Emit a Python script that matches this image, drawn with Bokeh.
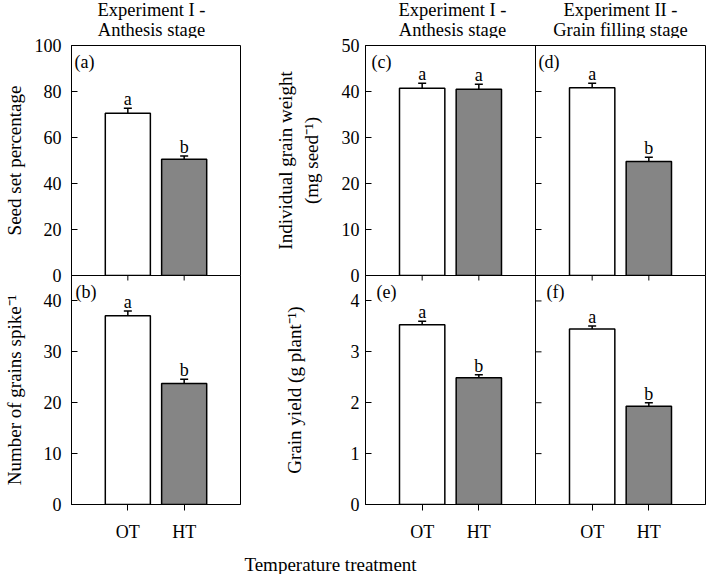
from math import pi
from bokeh.plotting import figure
from bokeh.layouts import column, row
from bokeh.models import (ColumnDataSource, Whisker, TeeHead, Label, Span,
                          FixedTicker, Range1d)
from bokeh.embed import file_html
from bokeh.resources import INLINE
from bokeh.core.properties import value

# ---------------- data ----------------
treatments = ["OT", "HT"]
bar_colors = ["white", "#858585"]

seed_set = [70.5, 50.5]
seed_set_err = [2.2, 1.5]
seed_set_letters = ["a", "b"]

grains_spike = [37.1, 23.8]
grains_spike_err = [0.9, 0.8]
grains_spike_letters = ["a", "b"]

grain_wt_anthesis = [40.7, 40.5]
grain_wt_anthesis_err = [1.1, 1.1]
grain_wt_anthesis_letters = ["a", "a"]

grain_wt_filling = [40.8, 24.8]
grain_wt_filling_err = [1.0, 0.9]
grain_wt_filling_letters = ["a", "b"]

yield_anthesis = [3.53, 2.49]
yield_anthesis_err = [0.07, 0.06]
yield_anthesis_letters = ["a", "b"]

yield_filling = [3.45, 1.93]
yield_filling_err = [0.06, 0.07]
yield_filling_letters = ["a", "b"]

titles_anthesis = ["Experiment I -", "Anthesis stage"]
titles_filling = ["Experiment II -", "Grain filling stage"]
x_title = "Temperature treatment"

FONT = "Liberation Serif"
TICK_FS = "18px"
LABEL_FS = "19px"

x_pos = [i + 1 for i in range(len(treatments))]          # 1, 2 within one panel
PANEL_SPAN = len(treatments) + 1                           # 3 units per panel

# ---------------- layout constants (pixels) ----------------
LB, LFW, LBR = 68, 172, 5          # left column: border, frame, right border
RB, RFW, RBR = 120, 340, 1         # right column: border, frame (2 panels), right border
LW = LB + LFW + LBR
RW = RB + RFW + RBR
HEAD_H = 38
TOP_OVER = 5                       # top row overlaps header by this much
TOP_BT, TOP_FH, TOP_BB = 12, 230, 12
BOT_OVER = TOP_BB                  # bottom row overlaps the top row's bottom border
BOT_FH, BOT_BB = 229, 40
FOOT_H = 30
TOTAL_W = LW + RW


def base_fig(width, height, y_end, y_ticks, x_end, bl, br, bt, bb, show_x):
    p = figure(width=width, height=height,
               x_range=Range1d(0, x_end), y_range=Range1d(0, y_end),
               output_backend="svg", toolbar_location=None,
               min_border_left=bl, min_border_right=br,
               min_border_top=bt, min_border_bottom=bb,
               x_axis_location="below" if show_x else None)
    p.grid.visible = False
    p.outline_line_color = "black"
    p.outline_line_alpha = 1.0
    p.outline_line_width = 1
    p.background_fill_color = "white"
    p.border_fill_alpha = 0.0
    ya = p.yaxis[0]
    ya.ticker = FixedTicker(ticks=y_ticks)
    ya.minor_tick_line_color = None
    ya.major_tick_in = 6
    ya.major_tick_out = 0
    ya.axis_line_color = "black"
    ya.major_tick_line_color = "black"
    ya.major_label_text_font = FONT
    ya.major_label_text_font_size = TICK_FS
    ya.major_label_text_color = "black"
    ya.axis_label_text_font = FONT
    ya.axis_label_text_font_size = LABEL_FS
    ya.axis_label_text_font_style = "normal"
    ya.axis_label_text_color = "black"
    if show_x:
        xa = p.xaxis[0]
        xa.minor_tick_line_color = None
        xa.major_tick_in = 0
        xa.major_tick_out = 6
        xa.major_label_standoff = 11
        xa.major_label_text_font = FONT
        xa.major_label_text_font_size = TICK_FS
        xa.major_label_text_color = "black"
        xa.axis_line_color = "black"
    return p


def set_x_ticks(p, n_panels):
    ticks, overrides = [], {}
    for k in range(n_panels):
        for xp, name in zip(x_pos, treatments):
            t = xp + k * PANEL_SPAN
            ticks.append(t)
            overrides[t] = name
    p.xaxis[0].ticker = FixedTicker(ticks=ticks)
    p.xaxis[0].major_label_overrides = overrides


def draw_bars(p, offset, vals, errs, letters, y_end, frame_h):
    xs = [xp + offset for xp in x_pos]
    gap = 9 * y_end / frame_h                  # 9 px above the whisker, in data units
    src = ColumnDataSource(dict(
        x=xs, top=vals, color=bar_colors,
        upper=[v + e for v, e in zip(vals, errs)],
        lower=[v - e for v, e in zip(vals, errs)],
        ly=[v + e + gap for v, e in zip(vals, errs)],
        letter=letters))
    p.vbar(x="x", top="top", bottom=0, width=0.8, fill_color="color",
           line_color="black", line_width=1.5, source=src)
    w = Whisker(base="x", upper="upper", lower="lower", source=src,
                line_color="black", line_width=1.5,
                upper_head=TeeHead(size=8, line_width=1.5, line_color="black"),
                lower_head=TeeHead(size=8, line_width=1.5, line_color="black"))
    p.add_layout(w)
    p.text(x="x", y="ly", text="letter", source=src,
           text_font=value(FONT), text_font_size="18px", text_color="black",
           text_align="center", text_baseline="middle")


def panel_tag(p, x, y, txt, dx=3, dy=-6):
    p.add_layout(Label(x=x, y=y, text=txt, x_offset=dx, y_offset=dy,
                       text_font=FONT, text_font_size="18px", text_color="black",
                       text_align="left", text_baseline="top"))


# ---------------- header (titles) ----------------
phead = figure(width=TOTAL_W, height=HEAD_H, x_range=Range1d(0, TOTAL_W),
               y_range=Range1d(0, HEAD_H), output_backend="svg",
               toolbar_location=None, min_border=0,
               x_axis_location=None, y_axis_location=None)
phead.grid.visible = False
phead.outline_line_color = None
c_panel_w = RFW / 2
title_specs = [(LB + LFW / 2 - 3, titles_anthesis),
               (LW + RB + c_panel_w / 2 + 2, titles_anthesis),
               (LW + RB + c_panel_w * 1.5, titles_filling)]
for cx, lines in title_specs:
    for t, ymid in zip(lines, [HEAD_H - 9.5, HEAD_H - 29]):
        phead.add_layout(Label(x=cx, y=ymid, text=t, text_font=FONT,
                               text_font_size="18.5px", text_color="black",
                               text_align="center", text_baseline="middle"))

TOP_H = TOP_BT + TOP_FH + TOP_BB
BOT_H = BOT_FH + BOT_BB

# ---------------- (a) ----------------
pa = base_fig(LW, TOP_H, 100, [0, 20, 40, 60, 80, 100], PANEL_SPAN,
              LB, LBR, TOP_BT, TOP_BB, False)
pa.yaxis[0].axis_label = "Seed set percentage"
pa.yaxis[0].major_label_standoff = 10
pa.yaxis[0].axis_label_standoff = 7
draw_bars(pa, 0, seed_set, seed_set_err, seed_set_letters, 100, TOP_FH)
panel_tag(pa, 0, 100, "(a)")

# ---------------- (b) ----------------
pb = base_fig(LW, BOT_H, 45, [0, 10, 20, 30, 40], PANEL_SPAN,
              LB, LBR, 0, BOT_BB, True)
pb.yaxis[0].axis_label = "Number of grains spike\u207b\u00b9"
pb.yaxis[0].major_label_standoff = 10
pb.yaxis[0].axis_label_standoff = 16
set_x_ticks(pb, 1)
draw_bars(pb, 0, grains_spike, grains_spike_err, grains_spike_letters, 45, BOT_FH)
pb.ray(x=x_pos, y=45, length=5, angle=-pi / 2, length_units="screen",
       line_color="black", line_width=1)
panel_tag(pb, 0, 45, "(b)", dx=4)

# ---------------- (c)+(d) ----------------
pcd = base_fig(RW, TOP_H, 50, [0, 10, 20, 30, 40, 50], 2 * PANEL_SPAN,
               RB, RBR, TOP_BT, TOP_BB, False)
pcd.yaxis[0].axis_label = "Individual grain weight\n(mg seed\u207b\u00b9)"
pcd.yaxis[0].major_label_standoff = 6
pcd.yaxis[0].axis_label_standoff = 17
draw_bars(pcd, 0, grain_wt_anthesis, grain_wt_anthesis_err, grain_wt_anthesis_letters, 50, TOP_FH)
draw_bars(pcd, PANEL_SPAN, grain_wt_filling, grain_wt_filling_err, grain_wt_filling_letters, 50, TOP_FH)
pcd.add_layout(Span(location=PANEL_SPAN, dimension="height", line_color="black", line_width=1))
pcd.ray(x=PANEL_SPAN, y=[10, 20, 30, 40], length=6, angle=0, length_units="screen",
        line_color="black", line_width=1)
panel_tag(pcd, 0, 50, "(c)", dx=6)
panel_tag(pcd, PANEL_SPAN, 50, "(d)", dx=3)

# ---------------- (e)+(f) ----------------
pef = base_fig(RW, BOT_H, 4.5, [0, 1, 2, 3, 4], 2 * PANEL_SPAN,
               RB, RBR, 0, BOT_BB, True)
pef.yaxis[0].axis_label = "Grain yield (g plant\u207b\u00b9)"
pef.yaxis[0].major_label_standoff = 6
pef.yaxis[0].axis_label_standoff = 43
set_x_ticks(pef, 2)
draw_bars(pef, 0, yield_anthesis, yield_anthesis_err, yield_anthesis_letters, 4.5, BOT_FH)
draw_bars(pef, PANEL_SPAN, yield_filling, yield_filling_err, yield_filling_letters, 4.5, BOT_FH)
pef.add_layout(Span(location=PANEL_SPAN, dimension="height", line_color="black", line_width=1))
pef.ray(x=PANEL_SPAN, y=[1, 2, 3, 4], length=6, angle=0, length_units="screen",
        line_color="black", line_width=1)
pef.ray(x=[xp + k * PANEL_SPAN for k in range(2) for xp in x_pos], y=4.5, length=5,
        angle=-pi / 2, length_units="screen", line_color="black", line_width=1)
panel_tag(pef, 0, 4.5, "(e)", dx=11)
panel_tag(pef, PANEL_SPAN, 4.5, "(f)", dx=11)

# ---------------- footer ----------------
pfoot = figure(width=TOTAL_W, height=FOOT_H, x_range=Range1d(0, TOTAL_W),
               y_range=Range1d(0, FOOT_H), output_backend="svg",
               toolbar_location=None, min_border=0,
               x_axis_location=None, y_axis_location=None)
pfoot.grid.visible = False
pfoot.outline_line_color = None
pfoot.background_fill_alpha = 0.0
pfoot.border_fill_alpha = 0.0
pfoot.add_layout(Label(x=330, y=FOOT_H - 20, text=x_title, text_font=FONT,
                       text_font_size=LABEL_FS, text_color="black",
                       text_align="center", text_baseline="middle"))

top_row = row(pa, pcd, spacing=0, margin=(-TOP_OVER, 0, 0, 0))
bot_row = row(pb, pef, spacing=0, margin=(-BOT_OVER, 0, 0, 0))
layout = column(phead, top_row, bot_row, pfoot, spacing=0)

open("out.html", "w").write(file_html(layout, INLINE))
